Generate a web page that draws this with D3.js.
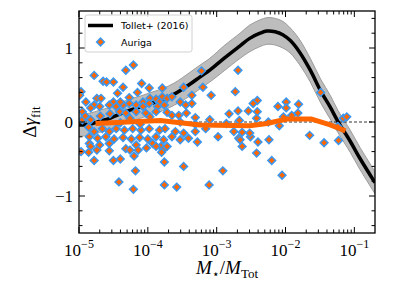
<!DOCTYPE html>
<html>
<head>
<meta charset="utf-8">
<script src="https://cdn.jsdelivr.net/npm/d3@7"></script>
<style>
  body { margin: 0; background: #fff; }
  svg { display: block; }
  .tickLabel { font-family: "Liberation Serif", serif; font-size: 17px; fill: #000; }
  .axisLabel { font-family: "Liberation Serif", serif; font-size: 19px; fill: #000; }
  .legendText { font-family: "DejaVu Sans", sans-serif; font-size: 9.5px; fill: #000; }
</style>
</head>
<body>
<div id="chart"></div>
<script>
// Tollet+ (2016) relation (log10 M*/Mtot, delta gamma, band half width)
const tollLogM  = [-5.00, -4.84, -4.70, -4.55, -4.40, -4.26, -4.11, -3.97, -3.79, -3.61, -3.39, -3.24, -3.10, -2.88, -2.66, -2.52, -2.37, -2.27, -2.15, -2.04, -1.93, -1.80, -1.64, -1.49, -1.35, -1.24, -1.06, -0.92, -0.70];
const tollGamma = [-0.04, -0.03, 0.01, 0.05, 0.11, 0.16, 0.20, 0.245, 0.30, 0.38, 0.51, 0.61, 0.70, 0.87, 1.03, 1.13, 1.20, 1.23, 1.22, 1.18, 1.10, 0.95, 0.70, 0.42, 0.20, 0.01, -0.26, -0.49, -0.82];
const tollErr   = [0.15, 0.15, 0.15, 0.15, 0.15, 0.15, 0.15, 0.15, 0.15, 0.15, 0.16, 0.16, 0.16, 0.17, 0.17, 0.18, 0.18, 0.18, 0.18, 0.18, 0.17, 0.17, 0.16, 0.16, 0.16, 0.15, 0.15, 0.15, 0.15];

// Auriga haloes (log10 M*/Mtot, delta gamma_fit)
const aurigaLogM = [
  -4.78, -4.32, -4.21, -4.65, -4.60, -4.50, -4.36, -4.09, -4.44, -4.15, -3.98, -3.79, -4.97, -4.99, -4.90, -4.74,
  -4.68, -4.50, -4.27, -4.07, -3.97, -3.88, -3.79, -3.83, -4.78, -4.95, -4.83, -4.70, -4.56, -4.46, -4.36, -4.27,
  -4.17, -4.07, -3.98, -3.86, -3.76, -4.41, -4.32, -4.17, -4.03, -3.88, -4.95, -4.83, -4.86, -4.78, -4.66, -4.56,
  -4.46, -4.34, -4.22, -4.10, -3.98, -3.83, -4.85, -4.73, -4.61, -4.49, -4.36, -4.24, -4.12, -4.00, -3.88, -3.77,
  -4.85, -4.70, -4.56, -4.17, -3.93, -3.81, -4.83, -4.97, -4.86, -4.74, -4.56, -4.32, -4.26, -4.02, -3.88, -3.78,
  -4.78, -4.50, -4.40, -4.20, -3.76, -4.18, -4.42, -4.21, -3.76, -4.14, -3.80, -3.22, -2.69, -3.20, -2.73, -3.48,
  -3.08, -3.36, -3.72, -3.65, -3.53, -3.36, -3.72, -3.45, -3.65, -3.55, -3.44, -3.31, -2.82, -2.69, -2.54, -2.67,
  -2.86, -3.75, -3.60, -3.48, -3.31, -3.16, -3.65, -3.53, -3.41, -3.28, -2.98, -2.75, -2.63, -2.68, -2.51, -2.63,
  -3.72, -3.48, -2.91, -3.58, -3.11, -2.66, -2.40, -2.24, -2.42, -2.20, -2.05, -1.44, -1.23, -1.49, -2.41, -1.99,
  -1.81, -2.47, -2.11, -1.99, -1.91, -2.03, -1.82, -2.42, -2.25, -1.65, -1.16, -1.11, -1.24, -2.52, -3.10, -2.09,
  -4.40, -4.69, -4.55, -4.26, -3.97, -4.91, -3.53, -3.31, -4.11, -4.40, -2.41
];
const aurigaGamma = [
  0.63, 0.70, 0.77, 0.55, 0.54, 0.54, 0.47, 0.52, 0.39, 0.40, 0.46, 0.46, 0.41, 0.36, 0.27, 0.32,
  0.32, 0.27, 0.33, 0.27, 0.32, 0.31, 0.34, 0.27, 0.23, 0.14, 0.19, 0.21, 0.23, 0.21, 0.23, 0.25,
  0.23, 0.21, 0.25, 0.21, 0.23, 0.14, 0.12, 0.14, 0.12, 0.14, 0.03, 0.03, -0.07, -0.13, -0.09, -0.13,
  -0.09, -0.11, -0.09, -0.11, -0.09, -0.11, -0.20, -0.22, -0.20, -0.23, -0.21, -0.23, -0.21, -0.23, -0.20, -0.24,
  -0.29, -0.31, -0.29, -0.31, -0.29, -0.33, -0.33, -0.40, -0.41, -0.38, -0.39, -0.36, -0.38, -0.35, -0.33, -0.38,
  -0.52, -0.52, -0.50, -0.46, -0.54, -0.66, -0.81, -0.91, -0.85, -0.38, -0.41, 0.69, 0.70, 0.47, 0.41, 0.47,
  0.36, 0.36, 0.32, 0.34, 0.27, 0.25, 0.13, 0.23, 0.09, 0.09, 0.12, 0.06, 0.11, 0.15, 0.15, 0.02,
  -0.02, -0.09, -0.13, -0.15, -0.13, -0.09, -0.20, -0.24, -0.22, -0.27, -0.20, -0.13, -0.14, -0.22, -0.20, -0.33,
  -0.33, -0.60, -0.66, -0.88, -0.85, -0.24, -0.27, -0.24, -0.42, -0.52, -0.72, -0.28, -0.25, 0.40, 0.29, 0.27,
  0.24, 0.25, 0.21, 0.19, 0.09, 0.07, 0.12, 0.05, 0.00, -0.18, 0.05, 0.07, -0.06, -0.15, 0.03, -0.05,
  0.27, 0.08, 0.11, 0.05, 0.07, 0.08, 0.00, -0.03, -0.03, -0.01, 0.14
];

// running median of Auriga
const medLogM  = [-4.76, -4.30, -3.82, -3.24, -2.52, -2.27, -1.98, -1.62, -1.35, -1.13];
const medGamma = [-0.02, 0.00, 0.02, -0.04, -0.05, -0.02, 0.04, 0.04, -0.04, -0.12];

const xMajor = [-5, -4, -3, -2, -1];
const yMajor = [-1, 0, 1];
const yMinor = [-1.4, -1.2, -0.8, -0.6, -0.4, -0.2, 0.2, 0.4, 0.6, 0.8, 1.2, 1.4];

const width = 399, height = 285;
const margin = {top: 11, right: 24, bottom: 52, left: 79};
const orange = '#ff6600', blue = '#3a97f0';

const svg = d3.select('#chart').append('svg')
  .attr('width', width).attr('height', height);

const x = d3.scaleLog()
  .domain([1e-5, Math.pow(10, -0.7)])
  .range([margin.left, width - margin.right]);

const y = d3.scaleLinear()
  .domain([-1.5, 1.5])
  .range([height - margin.bottom, margin.top]);

const plot = svg.append('g');
plot.append('clipPath').attr('id', 'clip')
  .append('rect')
  .attr('x', x.range()[0]).attr('y', y.range()[1])
  .attr('width', x.range()[1] - x.range()[0])
  .attr('height', y.range()[0] - y.range()[1]);
const inner = plot.append('g').attr('clip-path', 'url(#clip)');

const toll = tollLogM.map((v, i) => ({m: Math.pow(10, v), g: tollGamma[i], e: tollErr[i]}));

inner.append('path')
  .datum(toll)
  .attr('d', d3.area().curve(d3.curveCatmullRom)
    .x(d => x(d.m)).y0(d => y(d.g - d.e)).y1(d => y(d.g + d.e)))
  .style('fill', '#bdbdbd')
  .style('stroke', '#9c9c9c')
  .style('stroke-width', 1);

inner.append('line')
  .attr('x1', x.range()[0]).attr('x2', x.range()[1])
  .attr('y1', y(0)).attr('y2', y(0))
  .style('stroke', '#000').style('stroke-width', 0.8)
  .style('stroke-dasharray', '3,2');

inner.append('path')
  .datum(toll)
  .attr('d', d3.line().curve(d3.curveCatmullRom).x(d => x(d.m)).y(d => y(d.g)))
  .style('fill', 'none')
  .style('stroke', '#000')
  .style('stroke-width', 3.5);

const diamond = d3.symbol().type(d3.symbolSquare).size(30);

inner.selectAll('path.auriga')
  .data(aurigaLogM.map((v, i) => ({m: Math.pow(10, v), g: aurigaGamma[i]})))
  .enter()
  .append('path')
  .attr('class', 'auriga')
  .attr('d', diamond)
  .attr('transform', d => `translate(${x(d.m)},${y(d.g)}) rotate(45)`)
  .style('fill', orange)
  .style('stroke', blue)
  .style('stroke-width', 1.5);

inner.append('path')
  .datum(medLogM.map((v, i) => ({m: Math.pow(10, v), g: medGamma[i]})))
  .attr('d', d3.line().x(d => x(d.m)).y(d => y(d.g)))
  .style('fill', 'none')
  .style('stroke', orange)
  .style('stroke-width', 5)
  .style('stroke-linejoin', 'round');

// minor log ticks
const xMinor = [];
xMajor.forEach(e => { for (let k = 2; k <= 9; k++) { const v = k * Math.pow(10, e); if (v <= x.domain()[1]) xMinor.push(v); } });
const xMajorVals = xMajor.map(e => Math.pow(10, e));

const axes = svg.append('g');
const tick = (x1, y1, x2, y2) => axes.append('line')
  .attr('x1', x1).attr('y1', y1).attr('x2', x2).attr('y2', y2)
  .style('stroke', '#000').style('stroke-width', 1);

const [xl, xr] = x.range(), [yb, yt] = y.range();
xMajorVals.forEach(v => { tick(x(v), yb, x(v), yb - 6); tick(x(v), yt, x(v), yt + 6); });
xMinor.forEach(v => { tick(x(v), yb, x(v), yb - 3.5); tick(x(v), yt, x(v), yt + 3.5); });
yMajor.forEach(v => { tick(xl, y(v), xl + 6, y(v)); tick(xr, y(v), xr - 6, y(v)); });
yMinor.forEach(v => { tick(xl, y(v), xl + 3.5, y(v)); tick(xr, y(v), xr - 3.5, y(v)); });

axes.append('rect')
  .attr('x', xl).attr('y', yt).attr('width', xr - xl).attr('height', yb - yt)
  .style('fill', 'none').style('stroke', '#000').style('stroke-width', 1.3);

xMajor.forEach(e => {
  const t = axes.append('text').attr('class', 'tickLabel')
    .attr('x', x(Math.pow(10, e))).attr('y', yb + 23)
    .style('text-anchor', 'middle');
  t.append('tspan').text('10');
  t.append('tspan').attr('dy', -8).style('font-size', '12px').text('\u2212' + Math.abs(e));
});

yMajor.forEach(v => {
  axes.append('text').attr('class', 'tickLabel')
    .attr('x', xl - 6).attr('y', y(v) + 6)
    .style('text-anchor', 'end')
    .text(v < 0 ? '\u2212' + Math.abs(v) : v);
});

// axis labels
const xlab = svg.append('text').attr('class', 'axisLabel')
  .attr('x', (xl + xr) / 2).attr('y', 274)
  .style('text-anchor', 'middle');
xlab.append('tspan').style('font-style', 'italic').text('M');
xlab.append('tspan').attr('dy', 4).style('font-size', '12px').text('\u22c6');
xlab.append('tspan').attr('dy', -4).text('/');
xlab.append('tspan').style('font-style', 'italic').text('M');
xlab.append('tspan').attr('dy', 4).style('font-size', '13px').text('Tot');

const ylab = svg.append('text').attr('class', 'axisLabel')
  .attr('transform', `translate(36, ${(yt + yb) / 2}) rotate(-90)`)
  .style('text-anchor', 'middle');
ylab.append('tspan').text('\u0394');
ylab.append('tspan').style('font-style', 'italic').text('\u03b3');
ylab.append('tspan').attr('dy', 4).style('font-size', '13px').text('fit');

// legend
const legend = svg.append('g');
legend.append('rect')
  .attr('x', 85).attr('y', 15).attr('width', 107).attr('height', 37)
  .attr('rx', 2.5)
  .style('fill', '#fff').style('fill-opacity', 0.85)
  .style('stroke', '#d0d0d0').style('stroke-width', 1);
legend.append('line')
  .attr('x1', 88).attr('x2', 113).attr('y1', 25.5).attr('y2', 25.5)
  .style('stroke', '#000').style('stroke-width', 3.5);
legend.append('path')
  .attr('d', diamond)
  .attr('transform', 'translate(100.5,42) rotate(45)')
  .style('fill', orange).style('stroke', blue).style('stroke-width', 1.5);
legend.append('text').attr('class', 'legendText').attr('x', 121).attr('y', 29).text('Tollet+ (2016)');
legend.append('text').attr('class', 'legendText').attr('x', 121).attr('y', 45.5).text('Auriga');
</script>
</body>
</html>
